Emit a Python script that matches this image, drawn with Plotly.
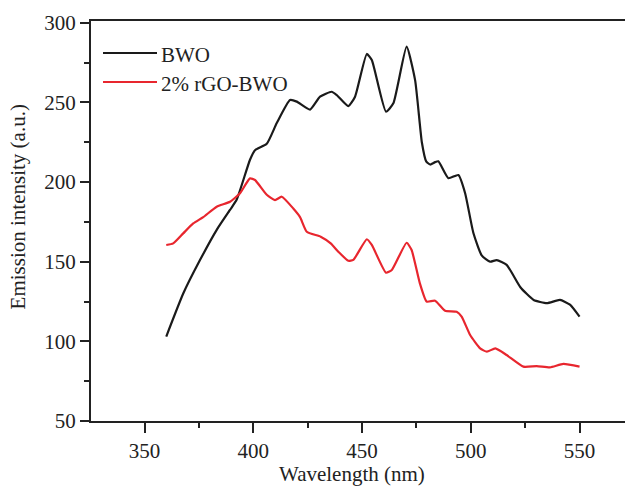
import plotly.graph_objects as go

bwo_nm = [360, 367.8, 375.5, 383.2, 389.3, 392.4, 398.5, 400.8, 406.2, 410.8, 416.9, 420,
          426.1, 430.7, 436, 438.4, 443.7, 446.8, 452.2, 454.5, 461, 464.4, 470.5, 474.4,
          477.5, 479.5, 481.3, 483.6, 485.1, 489.7, 494.3, 497.4, 501.2, 505, 508.9, 511.9,
          516.5, 522.8, 528.9, 535, 541, 545.6, 550]
bwo_val = [103, 130, 151, 170, 182.5, 189, 214, 220, 224, 237, 251.5, 250.5,
           245.5, 253.6, 256.7, 254.6, 247.7, 253.6, 280.4, 276.6, 244.2, 249.4, 285, 264,
           225, 213, 211, 212.5, 213, 202.4, 204.4, 193, 168, 154, 150, 151,
           148, 134, 126, 124, 126, 123, 115.5]

rgo_nm = [360, 363.2, 367.8, 372.4, 377, 383.2, 389.3, 393.9, 398.5, 400.8, 406.2, 410,
          413.1, 418.4, 421.5, 424.6, 431, 435.6, 439.1, 443.7, 446, 452.2, 454.5, 461,
          463.7, 470.5, 472.8, 476.6, 479.7, 483.6, 488.2, 493.5, 495.8, 499.7, 504.3,
          507.4, 511.3, 516.5, 524.2, 530.3, 536.4, 542.6, 550]
rgo_val = [160.5, 161.5, 167.8, 174, 178, 184.5, 187.6, 193, 202.3, 201.3, 192, 188.7,
           190.8, 183.4, 178, 168.8, 165.7, 161.5, 156.3, 150.6, 151.1, 164.1, 160.5, 143.1,
           144.8, 161.9, 157.3, 136.4, 125, 125.5, 119.2, 118.6, 115.5, 104, 95.6,
           93.5, 95.6, 91.4, 84.1, 84.5, 83.7, 85.8, 84.1]

series_names = ["BWO", "2% rGO-BWO"]
series_colors = ["#1a1a1a", "#e8262e"]

x_ticks = [350, 400, 450, 500, 550]
y_ticks = [50, 100, 150, 200, 250, 300]

FONT = "Liberation Serif"
FS = 21

fig = go.Figure()
for xs, ys, nm, col in [(bwo_nm, bwo_val, series_names[0], series_colors[0]),
                        (rgo_nm, rgo_val, series_names[1], series_colors[1])]:
    fig.add_trace(go.Scatter(x=xs, y=ys, mode="lines", name=nm, showlegend=False,
                             line=dict(color=col, width=2.2, shape="spline", smoothing=0.5)))

fig.update_layout(
    width=625, height=488,
    margin=dict(l=91, r=0, t=21, b=67),
    paper_bgcolor="white", plot_bgcolor="white",
    font=dict(family=FONT, size=FS, color="#222"),
    xaxis=dict(range=[325.4, 570.9], tickvals=x_ticks, ticks="outside", ticklen=10,
               tickwidth=2, tickcolor="#222", showline=True, linewidth=2, linecolor="#222",
               mirror=True, showgrid=False, zeroline=False,
               tickfont=dict(size=FS, family=FONT),
               minor=dict(tickvals=[375, 425, 475, 525], ticks="outside", ticklen=5,
                          tickwidth=2, tickcolor="#222", showgrid=False)),
    yaxis=dict(range=[50, 301.1], tickvals=y_ticks, ticks="outside", ticklen=9,
               tickwidth=2, tickcolor="#222", showline=True, linewidth=2, linecolor="#222",
               showgrid=False, zeroline=False, tickfont=dict(size=FS, family=FONT),
               minor=dict(tickvals=[75, 125, 175, 225, 275], ticks="outside", ticklen=5,
                          tickwidth=2, tickcolor="#222", showgrid=False)),
)

# legend drawn by hand to match the long sample lines
leg_y = [0.92, 0.8475]
for i in range(2):
    fig.add_shape(type="line", xref="paper", yref="paper", x0=0.0225, x1=0.1236,
                  y0=leg_y[i], y1=leg_y[i], line=dict(color=series_colors[i], width=2.2))
    fig.add_annotation(text=series_names[i], xref="paper", yref="paper", x=0.127,
                       y=leg_y[i] - 0.006, xanchor="left", yanchor="middle", showarrow=False,
                       font=dict(size=FS, family=FONT))

fig.add_annotation(text="Wavelength (nm)", xref="paper", yref="paper", x=0.489, y=-0.1675,
                   xanchor="center", yanchor="bottom", showarrow=False,
                   font=dict(size=FS, family=FONT))
fig.add_annotation(text="Emission intensity (a.u.)", xref="paper", yref="paper",
                   x=-0.137, y=0.536, xanchor="center", yanchor="middle", textangle=-90,
                   showarrow=False, font=dict(size=FS, family=FONT))

fig.write_html("out.html")
